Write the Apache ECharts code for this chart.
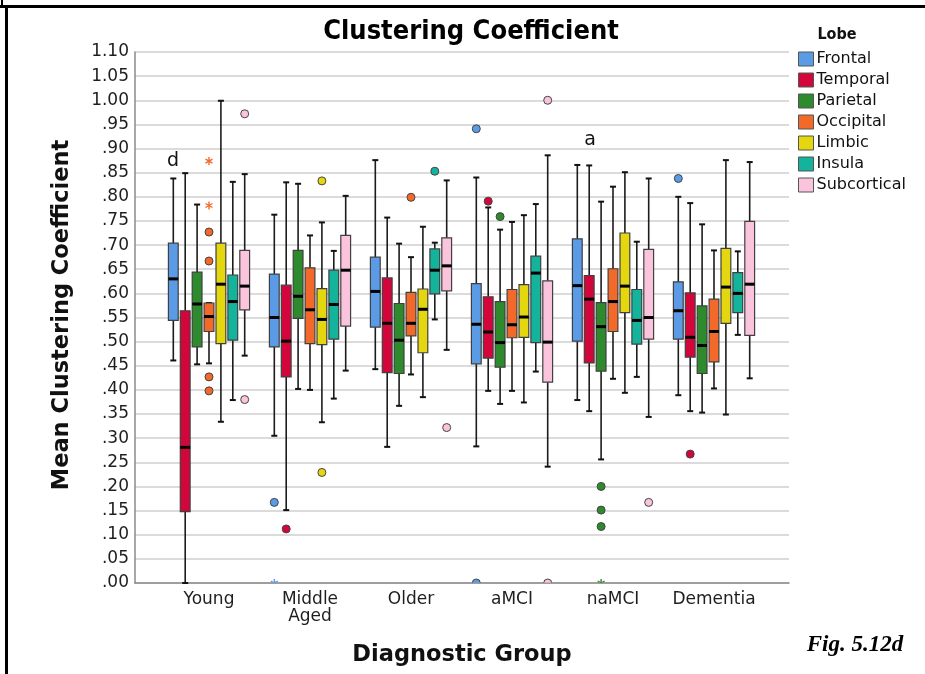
<!DOCTYPE html>
<html>
<head>
<meta charset="utf-8">
<title>Clustering Coefficient</title>
<script src="https://cdn.jsdelivr.net/npm/echarts@6/dist/echarts.min.js"></script>
<style>
  html, body { margin: 0; padding: 0; background: #ffffff; }
  #chart { width: 925px; height: 674px; }
</style>
</head>
<body>
<div id="chart"></div>
<script>
// Diagnostic groups on the x axis
const groups = ['Young', 'Middle\nAged', 'Older', 'aMCI', 'naMCI', 'Dementia'];

// Lobes (one box per lobe inside each group)
const lobes = ['Frontal', 'Temporal', 'Parietal', 'Occipital', 'Limbic', 'Insula', 'Subcortical'];
const lobeColors = ['#5b9be6', '#d3063c', '#2d8a2d', '#f2692a', '#e4d70f', '#14b39b', '#fac4dd'];

// Y axis range and tick step
const yMin = 0;
const yMax = 1.10;
const yStep = 0.05;

// Five-number summaries per group: [min whisker, Q1, median, Q3, max whisker]
const frontal = [
  [0.461, 0.544, 0.630, 0.704, 0.838],
  [0.305, 0.489, 0.550, 0.640, 0.763],
  [0.443, 0.530, 0.604, 0.675, 0.876],
  [0.283, 0.454, 0.536, 0.620, 0.840],
  [0.379, 0.501, 0.616, 0.713, 0.866],
  [0.389, 0.505, 0.564, 0.624, 0.800]
];
const temporal = [
  [0.000, 0.148, 0.281, 0.564, 0.849],
  [0.151, 0.427, 0.501, 0.617, 0.830],
  [0.282, 0.436, 0.538, 0.632, 0.757],
  [0.398, 0.466, 0.520, 0.593, 0.778],
  [0.356, 0.456, 0.588, 0.637, 0.865],
  [0.356, 0.468, 0.509, 0.601, 0.787]
];
const parietal = [
  [0.453, 0.489, 0.578, 0.644, 0.784],
  [0.402, 0.548, 0.594, 0.689, 0.827],
  [0.367, 0.434, 0.503, 0.579, 0.703],
  [0.371, 0.447, 0.498, 0.583, 0.732],
  [0.256, 0.439, 0.531, 0.581, 0.790],
  [0.353, 0.434, 0.492, 0.574, 0.743]
];
const occipital = [
  [0.455, 0.521, 0.552, 0.580, 0.580],
  [0.400, 0.496, 0.566, 0.653, 0.720],
  [0.432, 0.512, 0.538, 0.602, 0.675],
  [0.398, 0.508, 0.535, 0.608, 0.748],
  [0.423, 0.521, 0.583, 0.651, 0.821],
  [0.403, 0.458, 0.521, 0.588, 0.689]
];
const limbic = [
  [0.334, 0.496, 0.619, 0.704, 0.999],
  [0.333, 0.494, 0.546, 0.610, 0.747],
  [0.385, 0.477, 0.567, 0.609, 0.738],
  [0.374, 0.509, 0.551, 0.618, 0.762],
  [0.394, 0.560, 0.615, 0.725, 0.851],
  [0.349, 0.538, 0.613, 0.693, 0.876]
];
const insula = [
  [0.379, 0.503, 0.583, 0.638, 0.831],
  [0.382, 0.505, 0.577, 0.648, 0.688],
  [0.546, 0.599, 0.648, 0.692, 0.705],
  [0.438, 0.498, 0.642, 0.677, 0.785],
  [0.427, 0.495, 0.544, 0.608, 0.707],
  [0.514, 0.560, 0.600, 0.643, 0.687]
];
const subcortical = [
  [0.471, 0.566, 0.615, 0.689, 0.847],
  [0.440, 0.532, 0.648, 0.720, 0.802],
  [0.483, 0.605, 0.657, 0.715, 0.834],
  [0.241, 0.416, 0.499, 0.626, 0.886],
  [0.344, 0.505, 0.550, 0.691, 0.838],
  [0.424, 0.513, 0.619, 0.749, 0.872]
];

// Outlying cases: [group index, value, marker] (0 = circle, 1 = extreme / asterisk)
const CIRCLE = 0, STAR = 1;
const frontalOut = [[1, 0.167, CIRCLE], [1, 0.000, STAR], [3, 0.941, CIRCLE], [3, 0.000, CIRCLE], [5, 0.838, CIRCLE]];
const temporalOut = [[1, 0.112, CIRCLE], [3, 0.791, CIRCLE], [5, 0.267, CIRCLE]];
const parietalOut = [[3, 0.759, CIRCLE], [4, 0.200, CIRCLE], [4, 0.151, CIRCLE], [4, 0.117, CIRCLE], [4, 0.000, STAR]];
const occipitalOut = [[0, 0.874, STAR], [0, 0.782, STAR], [0, 0.727, CIRCLE], [0, 0.667, CIRCLE],
                      [0, 0.427, CIRCLE], [0, 0.398, CIRCLE], [2, 0.799, CIRCLE]];
const limbicOut = [[1, 0.833, CIRCLE], [1, 0.229, CIRCLE]];
const insulaOut = [[2, 0.853, CIRCLE]];
const subcorticalOut = [[0, 0.972, CIRCLE], [0, 0.380, CIRCLE], [2, 0.322, CIRCLE],
                        [3, 1.000, CIRCLE], [3, 0.000, CIRCLE], [4, 0.167, CIRCLE]];

const summaries = [frontal, temporal, parietal, occipital, limbic, insula, subcortical];
const outliers = [frontalOut, temporalOut, parietalOut, occipitalOut, limbicOut, insulaOut, subcorticalOut];

// Layout of the seven boxes inside one category band
const SLOT = 0.1178;   // centre-to-centre distance, fraction of band
const BOX = 0.097;     // box width, fraction of band
const CAP = 6;         // whisker cap width in px

const FONT = "'DejaVu Sans', Verdana, sans-serif";
const FONT_COND = "'DejaVu Sans Condensed', 'DejaVu Sans', sans-serif";

function lobeX(api, k) {
  const band = api.size([1, 0])[0];
  return api.coord([api.value(0), 0])[0] + (k - 3) * band * SLOT;
}

function boxRenderer(k) {
  return function (params, api) {
    const band = api.size([1, 0])[0];
    const x = lobeX(api, k);
    const w = band * BOX;
    const idx = api.value(0);
    const y = (d) => api.coord([idx, api.value(d)])[1];
    const yLo = y(1), yQ1 = y(2), yMed = y(3), yQ3 = y(4), yHi = y(5);
    const whisker = { stroke: '#1c1c1c', lineWidth: 1.6 };
    const cap = { stroke: '#111111', lineWidth: 2 };
    return {
      type: 'group',
      children: [
        { type: 'line', shape: { x1: x, y1: yHi, x2: x, y2: yQ3 }, style: whisker },
        { type: 'line', shape: { x1: x, y1: yQ1, x2: x, y2: yLo }, style: whisker },
        { type: 'line', shape: { x1: x - CAP / 2, y1: yHi, x2: x + CAP / 2, y2: yHi }, style: cap },
        { type: 'line', shape: { x1: x - CAP / 2, y1: yLo, x2: x + CAP / 2, y2: yLo }, style: cap },
        { type: 'rect', shape: { x: x - w / 2, y: yQ3, width: w, height: yQ1 - yQ3 },
          style: { fill: lobeColors[k], stroke: '#404040', lineWidth: 1.2 } },
        { type: 'line', shape: { x1: x - w / 2, y1: yMed, x2: x + w / 2, y2: yMed },
          style: { stroke: '#000000', lineWidth: 3 } }
      ]
    };
  };
}

function outlierRenderer(k) {
  return function (params, api) {
    const cs = params.coordSys;
    const x = lobeX(api, k);
    const yv = api.coord([api.value(0), api.value(1)])[1];
    let children;
    if (api.value(2) === STAR) {
      const r = 4;
      children = [90, 30, 150].map(function (deg) {
        const a = deg * Math.PI / 180;
        return {
          type: 'line',
          shape: { x1: x - r * Math.cos(a), y1: yv - r * Math.sin(a), x2: x + r * Math.cos(a), y2: yv + r * Math.sin(a) },
          style: { stroke: lobeColors[k], lineWidth: 1.4 }
        };
      });
    } else {
      children = [{
        type: 'circle',
        shape: { cx: x, cy: yv, r: 4 },
        style: { fill: lobeColors[k], stroke: '#444444', lineWidth: 1 }
      }];
    }
    // cases on the baseline are cut by the plot edge
    return {
      type: 'group',
      clipPath: { type: 'rect', shape: { x: cs.x - 20, y: cs.y - 20, width: cs.width + 40, height: cs.height + 19.5 } },
      children: children
    };
  };
}

const series = [];
lobes.forEach(function (name, k) {
  series.push({
    name: name,
    type: 'custom',
    xAxisIndex: 1,
    yAxisIndex: 1,
    itemStyle: { color: lobeColors[k] },
    encode: { x: 0, y: [1, 2, 3, 4, 5] },
    data: summaries[k].map(function (s, g) { return [g].concat(s); }),
    renderItem: boxRenderer(k),
    z: 3
  });
});
lobes.forEach(function (name, k) {
  series.push({
    name: name,
    type: 'custom',
    xAxisIndex: 1,
    yAxisIndex: 1,
    itemStyle: { color: lobeColors[k] },
    encode: { x: 0, y: 1 },
    data: outliers[k],
    renderItem: outlierRenderer(k),
    z: 4
  });
});

function fmtTick(v) {
  const s = (Math.round(v * 100) / 100).toFixed(2);
  return v < 1 ? s.slice(1) : s;
}

const chart = echarts.init(document.getElementById('chart'), null, { renderer: 'canvas' });

chart.setOption({
  backgroundColor: '#ffffff',
  animation: false,
  grid: [
    // frame carrying the value scale and gridlines
    { left: 135, right: 136, top: 52, bottom: 91, containLabel: false },
    // band area carrying the diagnostic groups
    { left: 158.5, right: 160.5, top: 52, bottom: 91, containLabel: false }
  ],
  xAxis: [
    {
      gridIndex: 0, type: 'value', min: 0, max: 1,
      axisLine: { show: true, lineStyle: { color: '#8a8a8a', width: 1.5 } },
      axisTick: { show: false }, axisLabel: { show: false }, splitLine: { show: false }
    },
    {
      gridIndex: 1, type: 'category', data: groups,
      axisLine: { show: false }, axisTick: { show: false }, splitLine: { show: false },
      axisLabel: { color: '#1e1e1e', fontFamily: FONT, fontSize: 17, lineHeight: 17, margin: 8, interval: 0 }
    }
  ],
  yAxis: [
    {
      gridIndex: 0, type: 'value', min: yMin, max: yMax, interval: yStep,
      axisLine: { show: true, lineStyle: { color: '#8a8a8a', width: 1.5 } },
      axisTick: { show: false },
      axisLabel: { color: '#1e1e1e', fontFamily: FONT, fontSize: 17, margin: 6, formatter: fmtTick },
      splitLine: { show: true, lineStyle: { color: '#cfcfcf', width: 1.5 } }
    },
    {
      gridIndex: 1, type: 'value', min: yMin, max: yMax, interval: yStep,
      show: false
    }
  ],
  legend: {
    orient: 'vertical',
    left: 798,
    top: 51,
    padding: 0,
    itemWidth: 15,
    itemHeight: 14,
    itemGap: 5,
    icon: 'rect',
    textStyle: { fontFamily: FONT, fontSize: 16, color: '#111111', lineHeight: 14, padding: [0, 0, 0, -2] },
    data: lobes.map(function (n, i) {
      return { name: n, itemStyle: { color: lobeColors[i], borderColor: '#555555', borderWidth: 1 } };
    })
  },
  graphic: [
    // outer frame edges
    { type: 'rect', shape: { x: 0, y: 5, width: 925, height: 3 }, style: { fill: '#000000' }, silent: true },
    { type: 'rect', shape: { x: 5, y: 5, width: 3, height: 669 }, style: { fill: '#000000' }, silent: true },
    { type: 'rect', shape: { x: 1, y: 0, width: 2, height: 6 }, style: { fill: '#000000' }, silent: true },
    {
      type: 'text', x: 471, y: 32,
      style: { text: 'Clustering Coefficient', fontFamily: FONT_COND, fontWeight: 'bold', fontSize: 27,
               fill: '#000000', align: 'center', verticalAlign: 'middle' }
    },
    {
      type: 'text', x: 837, y: 35,
      style: { text: 'Lobe', fontFamily: FONT_COND, fontWeight: 'bold', fontSize: 16,
               fill: '#111111', align: 'center', verticalAlign: 'middle' }
    },
    {
      type: 'text', x: 62, y: 315, rotation: Math.PI / 2,
      style: { text: 'Mean Clustering Coefficient', fontFamily: FONT, fontWeight: 'bold', fontSize: 22.5,
               fill: '#111111', align: 'center', verticalAlign: 'middle' }
    },
    {
      type: 'text', x: 462, y: 655,
      style: { text: 'Diagnostic Group', fontFamily: FONT, fontWeight: 'bold', fontSize: 22.5,
               fill: '#111111', align: 'center', verticalAlign: 'middle' }
    },
    {
      type: 'text', x: 855, y: 645,
      style: { text: 'Fig. 5.12d', fontFamily: "'Liberation Serif', 'DejaVu Serif', serif", fontWeight: 'bold',
               fontStyle: 'italic', fontSize: 23, fill: '#000000', align: 'center', verticalAlign: 'middle' }
    },
    {
      type: 'text', x: 173, y: 161,
      style: { text: 'd', fontFamily: FONT, fontSize: 19, fill: '#111111', align: 'center', verticalAlign: 'middle' }
    },
    {
      type: 'text', x: 590, y: 140,
      style: { text: 'a', fontFamily: FONT, fontSize: 19, fill: '#111111', align: 'center', verticalAlign: 'middle' }
    }
  ],
  series: series
});
</script>
</body>
</html>
